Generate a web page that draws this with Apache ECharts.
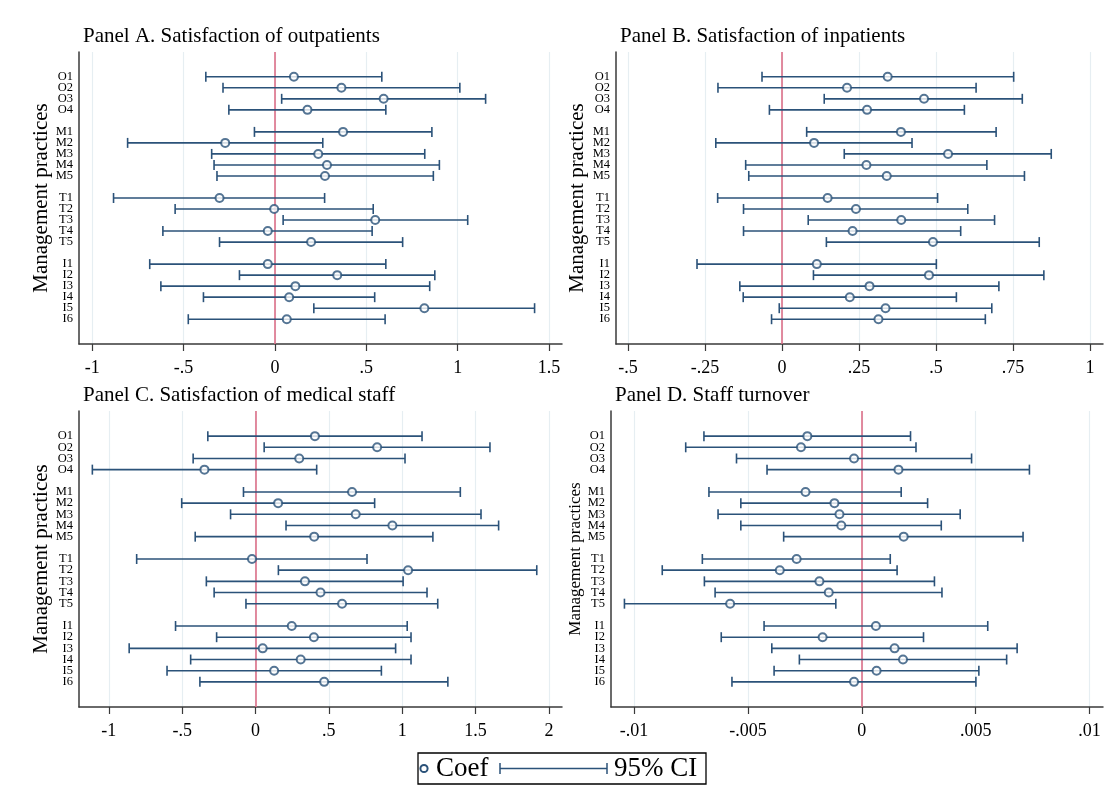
<!DOCTYPE html>
<html>
<head>
<meta charset="utf-8">
<script src="https://cdn.jsdelivr.net/npm/echarts@6/dist/echarts.min.js"></script>
<style>
  html, body { margin: 0; padding: 0; background: #fff; }
  #chart { width: 1109px; height: 810px; }
</style>
</head>
<body>
<div id="chart"></div>
<script>
// === DATA ===
const practices = ['O1', 'O2', 'O3', 'O4', 'M1', 'M2', 'M3', 'M4', 'M5',
  'T1', 'T2', 'T3', 'T4', 'T5', 'I1', 'I2', 'I3', 'I4', 'I5', 'I6'];

// Panel A. Satisfaction of outpatients
const coefA = [0.104, 0.364, 0.595, 0.178, 0.373, -0.272, 0.237, 0.285, 0.274,
  -0.303, -0.004, 0.549, -0.039, 0.198, -0.039, 0.341, 0.112, 0.078, 0.818, 0.065];
const loA = [-0.378, -0.284, 0.037, -0.252, -0.112, -0.806, -0.346, -0.333, -0.317,
  -0.883, -0.546, 0.045, -0.613, -0.303, -0.685, -0.194, -0.624, -0.391, 0.213, -0.474];
const hiA = [0.585, 1.012, 1.153, 0.607, 0.859, 0.262, 0.820, 0.900, 0.867,
  0.272, 0.538, 1.055, 0.532, 0.699, 0.607, 0.875, 0.847, 0.546, 1.421, 0.603];
const ticksA = [-1, -0.5, 0, 0.5, 1, 1.5];

// Panel B. Satisfaction of inpatients
const coefB = [0.343, 0.211, 0.461, 0.276, 0.386, 0.104, 0.539, 0.274, 0.340,
  0.148, 0.240, 0.387, 0.229, 0.490, 0.113, 0.477, 0.284, 0.220, 0.336, 0.313];
const loB = [-0.065, -0.208, 0.137, -0.041, 0.080, -0.215, 0.202, -0.118, -0.108,
  -0.209, -0.125, 0.085, -0.125, 0.144, -0.276, 0.102, -0.137, -0.126, -0.009, -0.034];
const hiB = [0.752, 0.630, 0.780, 0.592, 0.695, 0.422, 0.874, 0.665, 0.787,
  0.505, 0.603, 0.690, 0.580, 0.835, 0.501, 0.850, 0.704, 0.566, 0.681, 0.660];
const ticksB = [-0.5, -0.25, 0, 0.25, 0.5, 0.75, 1];

// Panel C. Satisfaction of medical staff
const coefC = [0.405, 0.829, 0.298, -0.348, 0.658, 0.154, 0.683, 0.933, 0.400,
  -0.024, 1.040, 0.337, 0.443, 0.590, 0.247, 0.398, 0.049, 0.308, 0.127, 0.468];
const loC = [-0.325, 0.059, -0.425, -1.112, -0.082, -0.503, -0.170, 0.208, -0.411,
  -0.810, 0.156, -0.335, -0.282, -0.065, -0.545, -0.265, -0.861, -0.442, -0.603, -0.379];
const hiC = [1.135, 1.598, 1.019, 0.417, 1.396, 0.812, 1.537, 1.657, 1.209,
  0.760, 1.917, 1.006, 1.169, 1.242, 1.034, 1.060, 0.955, 1.060, 0.858, 1.311];
const ticksC = [-1, -0.5, 0, 0.5, 1, 1.5, 2];

// Panel D. Staff turnover
const coefD = [-0.00239, -0.00267, -0.00034, 0.00161, -0.00247, -0.00120, -0.00098, -0.00090, 0.00184,
  -0.00286, -0.00360, -0.00186, -0.00145, -0.00578, 0.00062, -0.00172, 0.00144, 0.00181, 0.00065, -0.00034];
const loD = [-0.00693, -0.00773, -0.00550, -0.00416, -0.00671, -0.00531, -0.00631, -0.00531, -0.00343,
  -0.00700, -0.00876, -0.00691, -0.00644, -0.01042, -0.00429, -0.00617, -0.00395, -0.00274, -0.00385, -0.00570];
const hiD = [0.00214, 0.00238, 0.00482, 0.00736, 0.00173, 0.00289, 0.00432, 0.00349, 0.00708,
  0.00125, 0.00155, 0.00319, 0.00352, -0.00114, 0.00553, 0.00271, 0.00682, 0.00636, 0.00514, 0.00501];
const ticksD = [-0.01, -0.005, 0, 0.005, 0.01];

// === STYLE ===
const FONT = '"Liberation Serif", "Times New Roman", serif';
const NAVY = '#2b5279';
const RED = '#dc6f88';
const GRID_COLOR = '#e6eef2';
const AXIS_COLOR = '#3a3a3a';

// === ROW POSITIONS (one empty row between groups) ===
const rowPos = [];
let pos = 0;
practices.forEach((p, i) => {
  if (i > 0 && p[0] !== practices[i - 1][0]) pos++;
  pos++;
  rowPos.push(pos);
});
const rowLabel = {};
practices.forEach((p, i) => { rowLabel[rowPos[i]] = p; });
const yMin = rowPos[0] - 2.25;
const yMax = rowPos[rowPos.length - 1] + 2.25;
// empty labels at both ends so that the real first/last labels are not auto-hidden
const yLabelValues = [yMin].concat(rowPos, [yMax]);

const panels = [
  { title: 'Panel A. Satisfaction of outpatients', coef: coefA, lo: loA, hi: hiA, ticks: ticksA,
    min: -1.072, max: 1.571, left: 79, top: 52, width: 483, height: 292, nameSize: 21, nameGap: 27 },
  { title: 'Panel B. Satisfaction of inpatients', coef: coefB, lo: loB, hi: hiB, ticks: ticksB,
    min: -0.539, max: 1.042, left: 616, top: 52, width: 487, height: 292, nameSize: 21, nameGap: 28 },
  { title: 'Panel C. Satisfaction of medical staff', coef: coefC, lo: loC, hi: hiC, ticks: ticksC,
    min: -1.203, max: 2.089, left: 79, top: 411, width: 483, height: 296, nameSize: 21, nameGap: 27 },
  { title: 'Panel D. Staff turnover', coef: coefD, lo: loD, hi: hiD, ticks: ticksD,
    min: -0.01101, max: 0.01059, left: 611, top: 411, width: 492, height: 296, nameSize: 17, nameGap: 26 }
];

function fmtTick(v) {
  return String(+v.toFixed(6)).replace(/^(-?)0\./, '$1.');
}

function renderCI(params, api) {
  const row = api.value(0);
  const a = api.coord([api.value(1), row]);
  const b = api.coord([api.value(2), row]);
  const cap = 5;
  const style = { stroke: NAVY, lineWidth: 1.6 };
  return {
    type: 'group',
    children: [
      { type: 'line', shape: { x1: a[0], y1: a[1], x2: b[0], y2: b[1] }, style },
      { type: 'line', shape: { x1: a[0], y1: a[1] - cap, x2: a[0], y2: a[1] + cap }, style },
      { type: 'line', shape: { x1: b[0], y1: b[1] - cap, x2: b[0], y2: b[1] + cap }, style }
    ]
  };
}

// === OPTION ===
const option = {
  backgroundColor: '#fff',
  animation: false,
  title: panels.map(p => ({
    text: p.title,
    left: p.left + 4,
    top: p.top - 26,
    padding: 0,
    textStyle: { fontFamily: FONT, fontSize: 21, fontWeight: 'normal', color: '#000' }
  })),
  grid: panels.map(p => ({ left: p.left, top: p.top, width: p.width, height: p.height })),
  xAxis: panels.map((p, i) => ({
    type: 'value',
    gridIndex: i,
    position: 'bottom',
    min: p.min,
    max: p.max,
    axisLine: { onZero: false, lineStyle: { color: AXIS_COLOR, width: 1.5 } },
    axisTick: { show: true, length: 7, lineStyle: { color: AXIS_COLOR, width: 1.2 }, customValues: p.ticks },
    axisLabel: { customValues: p.ticks, formatter: fmtTick, margin: 15,
      fontFamily: FONT, fontSize: 18, color: '#000' },
    splitLine: { show: true, lineStyle: { color: GRID_COLOR, width: 1.2 } }
  })),
  yAxis: panels.map((p, i) => ({
    type: 'value',
    gridIndex: i,
    inverse: true,
    min: yMin,
    max: yMax,
    name: 'Management practices',
    nameLocation: 'middle',
    nameGap: p.nameGap,
    nameTextStyle: { fontFamily: FONT, fontSize: p.nameSize, color: '#000' },
    axisLine: { show: true, onZero: false, lineStyle: { color: AXIS_COLOR, width: 1.5 } },
    axisTick: { show: false },
    axisLabel: { customValues: yLabelValues, formatter: v => rowLabel[v] || '', margin: 6,
      hideOverlap: false,
      fontFamily: FONT, fontSize: 12.5, lineHeight: 9, color: '#000' },
    splitLine: { show: false }
  })),
  series: panels.flatMap((p, i) => [
    {
      type: 'custom',
      xAxisIndex: i,
      yAxisIndex: i,
      renderItem: renderCI,
      encode: { x: [1, 2], y: 0 },
      data: practices.map((_, k) => [rowPos[k], p.lo[k], p.hi[k]]),
      z: 3,
      silent: true,
      markLine: {
        silent: true,
        symbol: 'none',
        label: { show: false },
        lineStyle: { color: RED, type: 'solid', width: 1.6 },
        data: [{ xAxis: 0 }],
        z: 2
      }
    },
    {
      type: 'scatter',
      xAxisIndex: i,
      yAxisIndex: i,
      symbol: 'emptyCircle',
      symbolSize: 8,
      itemStyle: { color: NAVY, borderColor: NAVY, borderWidth: 2 },
      data: practices.map((_, k) => [p.coef[k], rowPos[k]]),
      z: 5,
      silent: true
    }
  ]),
  graphic: [
    { type: 'rect', shape: { x: 418, y: 753, width: 288, height: 31 },
      style: { fill: '#fff', stroke: '#000', lineWidth: 1.3 } },
    { type: 'circle', shape: { cx: 424, cy: 768.5, r: 3.6 },
      style: { fill: '#fff', stroke: NAVY, lineWidth: 2 } },
    { type: 'text', x: 436, y: 769,
      style: { text: 'Coef', font: '27px ' + FONT, fill: '#000', verticalAlign: 'middle' } },
    { type: 'polyline', shape: { points: [[500, 768.5], [607, 768.5]] },
      style: { stroke: NAVY, lineWidth: 1.5 } },
    { type: 'line', shape: { x1: 500, y1: 763, x2: 500, y2: 774 }, style: { stroke: NAVY, lineWidth: 1.5 } },
    { type: 'line', shape: { x1: 607, y1: 763, x2: 607, y2: 774 }, style: { stroke: NAVY, lineWidth: 1.5 } },
    { type: 'text', x: 614, y: 769,
      style: { text: '95% CI', font: '27px ' + FONT, fill: '#000', verticalAlign: 'middle' } }
  ]
};

const chart = echarts.init(document.getElementById('chart'), null, { renderer: 'canvas' });
chart.setOption(option);
</script>
</body>
</html>
